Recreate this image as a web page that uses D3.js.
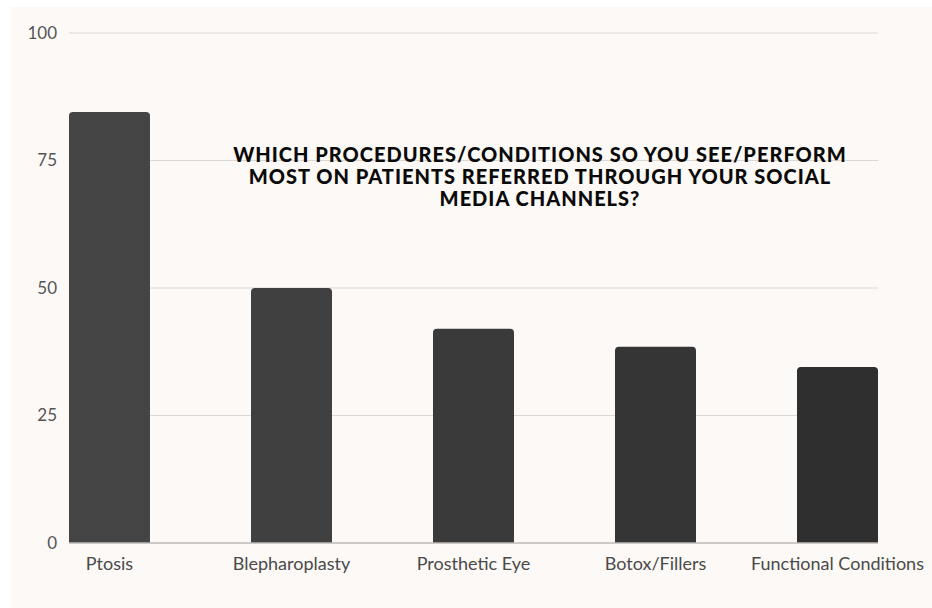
<!DOCTYPE html>
<html>
<head>
<meta charset="utf-8">
<script src="https://cdn.jsdelivr.net/npm/d3@7"></script>
<style>
  html, body { margin: 0; padding: 0; background: #ffffff; }
  svg { display: block; }
</style>
</head>
<body>
<main></main>
<script>
const width = 932;
const height = 608;
const margin = {top: 33, bottom: 65, left: 69, right: 54};

// data
const categories = ["Ptosis", "Blepharoplasty", "Prosthetic Eye", "Botox/Fillers", "Functional Conditions"];
const values = [84.5, 50, 42, 38.5, 34.5];
const barColors = ["#454545", "#404040", "#3a3a3a", "#353535", "#2f2f2f"];
const yTicks = [0, 25, 50, 75, 100];
const titleLines = [
    "WHICH PROCEDURES/CONDITIONS SO YOU SEE/PERFORM",
    "MOST ON PATIENTS REFERRED THROUGH YOUR SOCIAL",
    "MEDIA CHANNELS?"
];

const svg = d3.select("main")
    .append("svg")
        .attr("width", width)
        .attr("height", height);

// cream panel
svg.append("rect")
    .attr("x", 11).attr("y", 7)
    .attr("width", width - 11).attr("height", height - 7)
    .attr("fill", "#fdf9f6");

const x = d3.scaleBand()
    .domain(categories)
    .range([margin.left, width - margin.right])
    .paddingInner(0.555)
    .paddingOuter(0);
const y = d3.scaleLinear()
    .domain([0, 100])
    .range([height - margin.bottom, margin.top]);

// gridlines
svg.append("g")
    .selectAll("line")
    .data(yTicks.filter(d => d > 0))
    .join("line")
        .attr("x1", margin.left)
        .attr("x2", width - margin.right)
        .attr("y1", d => y(d))
        .attr("y2", d => y(d))
        .attr("stroke", "#dcd8d5")
        .attr("stroke-width", 1);

// y tick labels
svg.append("g")
    .selectAll("text")
    .data(yTicks)
    .join("text")
        .attr("x", 57)
        .attr("y", d => y(d))
        .attr("dy", "0.35em")
        .attr("text-anchor", "end")
        .attr("font-family", "Lato, sans-serif")
        .attr("font-size", 17)
        .attr("fill", "#555555")
        .text(d => d);

// bars with rounded tops
const r = 4;
svg.append("g")
    .selectAll("path")
    .data(categories)
    .join("path")
        .attr("d", (d, i) => {
            const x0 = x(d), x1 = x(d) + x.bandwidth();
            const y0 = y(values[i]), yb = y(0);
            return `M${x0},${yb}V${y0 + r}Q${x0},${y0} ${x0 + r},${y0}H${x1 - r}Q${x1},${y0} ${x1},${y0 + r}V${yb}Z`;
        })
        .attr("fill", (d, i) => barColors[i]);

// baseline
svg.append("line")
    .attr("x1", margin.left)
    .attr("x2", width - margin.right)
    .attr("y1", y(0))
    .attr("y2", y(0))
    .attr("stroke", "#bdb9b6")
    .attr("stroke-width", 1.5);

// x labels
svg.append("g")
    .selectAll("text")
    .data(categories)
    .join("text")
        .attr("x", d => x(d) + x.bandwidth() / 2)
        .attr("y", 570)
        .attr("text-anchor", "middle")
        .attr("font-family", "Lato, sans-serif")
        .attr("font-size", 18)
        .attr("fill", "#4a4a4a")
        .text(d => d);

// title
svg.append("g")
    .selectAll("text")
    .data(titleLines)
    .join("text")
        .attr("x", 540)
        .attr("y", (d, i) => 162 + i * 22)
        .attr("text-anchor", "middle")
        .attr("font-family", "Lato, sans-serif")
        .attr("font-weight", 900)
        .attr("font-size", 20)
        .attr("letter-spacing", 1)
        .attr("fill", "#0a0a0a")
        .text(d => d);
</script>
</body>
</html>
